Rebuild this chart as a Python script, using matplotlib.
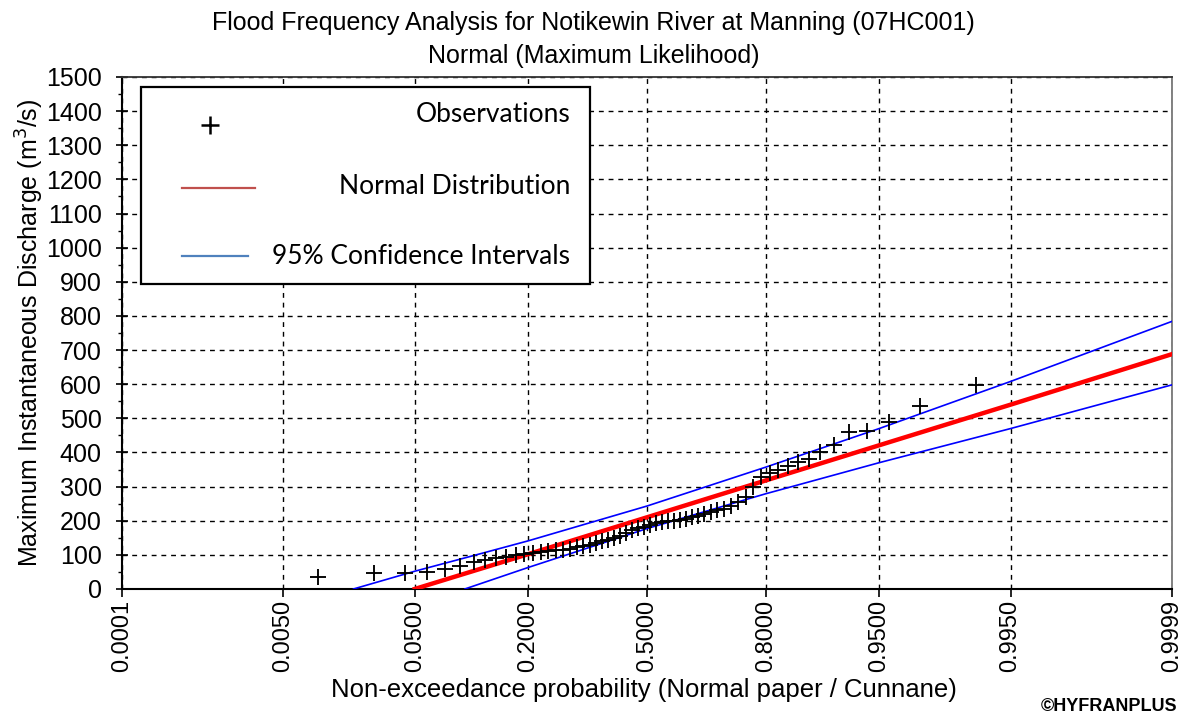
import numpy as np
import matplotlib
matplotlib.use('Agg')
import matplotlib.pyplot as plt
from matplotlib.patches import Rectangle
from matplotlib.lines import Line2D
from matplotlib.ticker import MultipleLocator, NullLocator
from statistics import NormalDist

# ---------------- data ----------------
obs_values = [36, 47, 48, 51, 58, 68, 78, 85, 90, 95, 100, 102, 105, 108, 110,
              113, 115, 118, 122, 125, 130, 135, 140, 143, 148, 155, 165, 172,
              178, 183, 188, 192, 196, 198, 200, 203, 206, 210, 215, 220, 225,
              230, 235, 242, 255, 270, 300, 328, 340, 350, 360, 372, 380, 400,
              422, 461, 464, 490, 536, 598]

fit_prob = [0.05, 0.2, 0.5, 0.8, 0.95, 0.995, 0.9999]
fit_values = [0, 102, 210, 318, 421, 540, 688]

ci_upper_prob = [0.0188, 0.05, 0.1, 0.2, 0.5, 0.8, 0.95, 0.995, 0.9999]
ci_upper_values = [0, 52, 92, 141, 243, 357, 470, 608, 784]

ci_lower_prob = [0.0985, 0.2, 0.5, 0.8, 0.95, 0.995, 0.9999]
ci_lower_values = [0, 63, 177, 279, 370, 470, 598]

xtick_probs = [0.0001, 0.005, 0.05, 0.2, 0.5, 0.8, 0.95, 0.995, 0.9999]
xtick_labels = ['0.0001', '0.0050', '0.0500', '0.2000', '0.5000',
                '0.8000', '0.9500', '0.9950', '0.9999']
ytick_values = list(range(0, 1501, 100))

legend_labels = ['Observations', 'Normal Distribution', '95% Confidence Intervals']

# Cunnane plotting positions
n = len(obs_values)
ranks = np.arange(1, n + 1)
obs_prob = (ranks - 0.4) / (n + 0.2)

# ---------------- normal probability scale ----------------
_nd = NormalDist()
_ppf = np.vectorize(_nd.inv_cdf, otypes=[float])
_cdf = np.vectorize(_nd.cdf, otypes=[float])


def fwd(p):
    p = np.clip(np.asarray(p, dtype=float), 1e-12, 1 - 1e-12)
    return _ppf(p)


def inv(z):
    return _cdf(np.asarray(z, dtype=float))


plt.rcParams['font.family'] = ['Liberation Sans', 'DejaVu Sans']

fig = plt.figure(figsize=(11.8, 7.18), dpi=100)
ax = fig.add_axes([0.1034, 0.1797, 0.8898, 0.7131])
ax.set_xscale('function', functions=(fwd, inv))
ax.set_xlim(0.0001, 0.9999)
ax.set_ylim(0, 1500)

# grid
ax.set_axisbelow(True)
ax.grid(True, which='major', color='black', linestyle=(0, (3.5, 3.5)), linewidth=1.0)

# data
ax.plot(ci_upper_prob, ci_upper_values, color='#0000ff', lw=1.2, zorder=3)
ax.plot(ci_lower_prob, ci_lower_values, color='#0000ff', lw=1.2, zorder=3)
ax.plot(fit_prob, fit_values, color='#ff0000', lw=3.2, zorder=3)
ax.plot(obs_prob, obs_values, linestyle='none', marker='+', color='black',
        markersize=11, markeredgewidth=1.35, zorder=4)

# ticks
ax.set_xticks(xtick_probs)
ax.set_xticklabels(xtick_labels, rotation=90, fontsize=17)
ax.xaxis.set_minor_locator(NullLocator())
ax.set_yticks(ytick_values)
ax.set_yticklabels([str(v) for v in ytick_values], fontsize=18)
ax.yaxis.set_minor_locator(MultipleLocator(50))
ax.tick_params(axis='x', which='major', direction='out', length=6, width=1.2, pad=2)
ax.tick_params(axis='y', which='major', direction='inout', length=9, width=1.2, pad=10)
ax.tick_params(axis='y', which='minor', direction='out', length=3, width=1.0)

for s in ['left', 'bottom']:
    ax.spines[s].set_linewidth(1.5)
    ax.spines[s].set_color('black')
ax.spines['top'].set_linewidth(1.3)
ax.spines['top'].set_color('#333333')
ax.spines['right'].set_linewidth(1.3)
ax.spines['right'].set_color('#777777')

# legend box (manual)
ax.add_patch(Rectangle((0.0181, 0.5957), 0.4276, 0.3848, transform=ax.transAxes,
                       facecolor='white', edgecolor='black', lw=1.6, zorder=6,
                       clip_on=False))
lfont = dict(family=['Lato', 'DejaVu Sans'], fontsize=19, ha='right', va='center',
             transform=ax.transAxes, zorder=7)
ax.text(0.4267, 0.926, legend_labels[0], **lfont)
ax.text(0.4267, 0.787, legend_labels[1], **lfont)
ax.text(0.4267, 0.650, legend_labels[2], **lfont)
ax.add_line(Line2D([0.0838], [0.906], marker='+', color='black', markersize=13,
                   markeredgewidth=1.8, transform=ax.transAxes, zorder=7))
ax.add_line(Line2D([0.0571, 0.1267], [0.783, 0.783], color='#c0504d', lw=1.6,
                   transform=ax.transAxes, zorder=7))
ax.add_line(Line2D([0.0571, 0.1200], [0.650, 0.650], color='#4f81bd', lw=1.6,
                   transform=ax.transAxes, zorder=7))

# titles & labels
fig.text(0.503, 0.968, 'Flood Frequency Analysis for Notikewin River at Manning (07HC001)',
         ha='center', va='center', fontsize=18)
fig.text(0.503, 0.922, 'Normal (Maximum Likelihood)', ha='center', va='center', fontsize=18)
fig.text(0.0254, 0.536, 'Maximum Instantaneous Discharge (m$^3$/s)', rotation=90,
         ha='center', va='center', fontsize=18)
fig.text(0.546, 0.039, 'Non-exceedance probability (Normal paper / Cunnane)',
         ha='center', va='center', fontsize=18.5)
fig.text(0.998, 0.0167, '©HYFRANPLUS', ha='right', va='center', fontsize=13,
         fontweight='bold')

fig.savefig('out.png', dpi=100)
